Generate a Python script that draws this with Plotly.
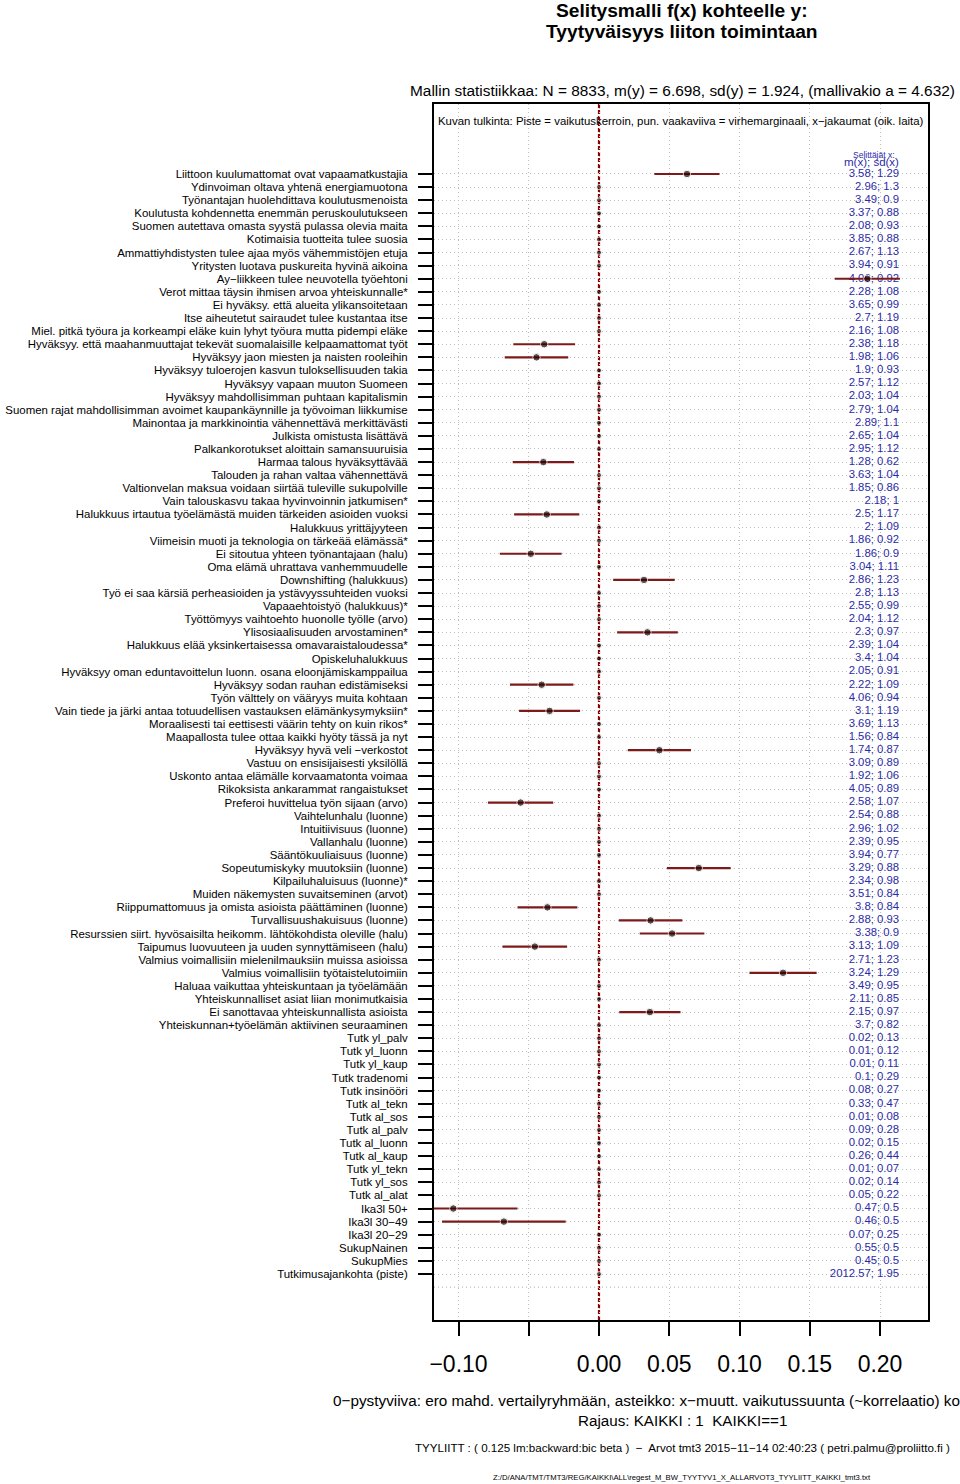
import plotly.graph_objects as go

labels = [
    "Liittoon kuulumattomat ovat vapaamatkustajia",
    "Ydinvoiman oltava yhtenä energiamuotona",
    "Työnantajan huolehdittava koulutusmenoista",
    "Koulutusta kohdennetta enemmän peruskoulutukseen",
    "Suomen autettava omasta syystä pulassa olevia maita",
    "Kotimaisia tuotteita tulee suosia",
    "Ammattiyhdistysten tulee ajaa myös vähemmistöjen etuja",
    "Yritysten luotava puskureita hyvinä aikoina",
    "Ay\u2212liikkeen tulee neuvotella työehtoni",
    "Verot mittaa täysin ihmisen arvoa yhteiskunnalle*",
    "Ei hyväksy. että alueita ylikansoitetaan",
    "Itse aiheutetut sairaudet tulee kustantaa itse",
    "Miel. pitkä työura ja korkeampi eläke kuin lyhyt työura mutta pidempi eläke",
    "Hyväksyy. että maahanmuuttajat tekevät suomalaisille kelpaamattomat työt",
    "Hyväksyy jaon miesten ja naisten rooleihin",
    "Hyväksyy tuloerojen kasvun tuloksellisuuden takia",
    "Hyväksyy vapaan muuton Suomeen",
    "Hyväksyy mahdollisimman puhtaan kapitalismin",
    "Suomen rajat mahdollisimman avoimet kaupankäynnille ja työvoiman liikkumise",
    "Mainontaa ja markkinointia vähennettävä merkittävästi",
    "Julkista omistusta lisättävä",
    "Palkankorotukset aloittain samansuuruisia",
    "Harmaa talous hyväksyttävää",
    "Talouden ja rahan valtaa vähennettävä",
    "Valtionvelan maksua voidaan siirtää tuleville sukupolville",
    "Vain talouskasvu takaa hyvinvoinnin jatkumisen*",
    "Halukkuus irtautua työelämästä muiden tärkeiden asioiden vuoksi",
    "Halukkuus yrittäjyyteen",
    "Viimeisin muoti ja teknologia on tärkeää elämässä*",
    "Ei sitoutua yhteen työnantajaan (halu)",
    "Oma elämä uhrattava vanhemmuudelle",
    "Downshifting (halukkuus)",
    "Työ ei saa kärsiä perheasioiden ja ystävyyssuhteiden vuoksi",
    "Vapaaehtoistyö (halukkuus)*",
    "Työttömyys vaihtoehto huonolle työlle (arvo)",
    "Ylisosiaalisuuden arvostaminen*",
    "Halukkuus elää yksinkertaisessa omavaraistaloudessa*",
    "Opiskeluhalukkuus",
    "Hyväksyy oman eduntavoittelun luonn. osana eloonjämiskamppailua",
    "Hyväksyy sodan rauhan edistämiseksi",
    "Työn välttely on vääryys muita kohtaan",
    "Vain tiede ja järki antaa totuudellisen vastauksen elämänkysymyksiin*",
    "Moraalisesti tai eettisesti väärin tehty on kuin rikos*",
    "Maapallosta tulee ottaa kaikki hyöty tässä ja nyt",
    "Hyväksyy hyvä veli \u2212verkostot",
    "Vastuu on ensisijaisesti yksilöllä",
    "Uskonto antaa elämälle korvaamatonta voimaa",
    "Rikoksista ankarammat rangaistukset",
    "Preferoi huvittelua työn sijaan (arvo)",
    "Vaihtelunhalu (luonne)",
    "Intuitiivisuus (luonne)",
    "Vallanhalu (luonne)",
    "Sääntökuuliaisuus (luonne)",
    "Sopeutumiskyky muutoksiin (luonne)",
    "Kilpailuhaluisuus (luonne)*",
    "Muiden näkemysten suvaitseminen (arvot)",
    "Riippumattomuus ja omista asioista päättäminen (luonne)",
    "Turvallisuushakuisuus (luonne)",
    "Resurssien siirt. hyvösaisilta heikomm. lähtökohdista oleville (halu)",
    "Taipumus luovuuteen ja uuden synnyttämiseen (halu)",
    "Valmius voimallisiin mielenilmauksiin muissa asioissa",
    "Valmius voimallisiin työtaistelutoimiin",
    "Haluaa vaikuttaa yhteiskuntaan ja työelämään",
    "Yhteiskunnalliset asiat liian monimutkaisia",
    "Ei sanottavaa yhteiskunnallista asioista",
    "Yhteiskunnan+työelämän aktiivinen seuraaminen",
    "Tutk yl_palv",
    "Tutk yl_luonn",
    "Tutk yl_kaup",
    "Tutk tradenomi",
    "Tutk insinööri",
    "Tutk al_tekn",
    "Tutk al_sos",
    "Tutk al_palv",
    "Tutk al_luonn",
    "Tutk al_kaup",
    "Tutk yl_tekn",
    "Tutk yl_sos",
    "Tutk al_alat",
    "Ika3l 50+",
    "Ika3l 30\u221249",
    "Ika3l 20\u221229",
    "SukupNainen",
    "SukupMies",
    "Tutkimusajankohta (piste)",
]

coef = [
    0.0626, 0, 0, 0, 0, 0, 0, 0, 0.191, 0,
    0, 0, 0, -0.0390, -0.0445, 0, 0, 0, 0, 0,
    0, 0, -0.0396, 0, 0, 0, -0.0372, 0, 0, -0.0486,
    0, 0.0320, 0, 0, 0, 0.0345, 0, 0, 0, -0.0408,
    0, -0.0352, 0, 0, 0.0430, 0, 0, 0, -0.0558, 0,
    0, 0, 0, 0.0710, 0, 0, -0.0367, 0.0367, 0.0520, -0.0457,
    0, 0.1310, 0, 0, 0.0362, 0, 0, 0, 0, 0,
    0, 0, 0, 0, 0, 0, 0, 0, 0, -0.1037,
    -0.0677, 0, 0, 0, 0,
]

err = [
    0.0232, 0, 0, 0, 0, 0, 0, 0, 0.0232, 0,
    0, 0, 0, 0.0220, 0.0226, 0, 0, 0, 0, 0,
    0, 0, 0.0218, 0, 0, 0, 0.0232, 0, 0, 0.0220,
    0, 0.0219, 0, 0, 0, 0.0216, 0, 0, 0, 0.0226,
    0, 0.0217, 0, 0, 0.0225, 0, 0, 0, 0.0232, 0,
    0, 0, 0, 0.0227, 0, 0, 0.0213, 0.0226, 0.0230, 0.0230,
    0, 0.0239, 0, 0, 0.0218, 0, 0, 0, 0, 0,
    0, 0, 0, 0, 0, 0, 0, 0, 0, 0.0457,
    0.0440, 0, 0, 0, 0,
]

mean_x = [
    3.58, 2.96, 3.49, 3.37, 2.08, 3.85, 2.67, 3.94, 4.06, 2.28,
    3.65, 2.7, 2.16, 2.38, 1.98, 1.9, 2.57, 2.03, 2.79, 2.89,
    2.65, 2.95, 1.28, 3.63, 1.85, 2.18, 2.5, 2, 1.86, 1.86,
    3.04, 2.86, 2.8, 2.55, 2.04, 2.3, 2.39, 3.4, 2.05, 2.22,
    4.06, 3.1, 3.69, 1.56, 1.74, 3.09, 1.92, 4.05, 2.58, 2.54,
    2.96, 2.39, 3.94, 3.29, 2.34, 3.51, 3.8, 2.88, 3.38, 3.13,
    2.71, 3.24, 3.49, 2.11, 2.15, 3.7, 0.02, 0.01, 0.01, 0.1,
    0.08, 0.33, 0.01, 0.09, 0.02, 0.26, 0.01, 0.02, 0.05, 0.47,
    0.46, 0.07, 0.55, 0.45, 2012.57,
]

sd_x = [
    1.29, 1.3, 0.9, 0.88, 0.93, 0.88, 1.13, 0.91, 0.92, 1.08,
    0.99, 1.19, 1.08, 1.18, 1.06, 0.93, 1.12, 1.04, 1.04, 1.1,
    1.04, 1.12, 0.62, 1.04, 0.86, 1, 1.17, 1.09, 0.92, 0.9,
    1.11, 1.23, 1.13, 0.99, 1.12, 0.97, 1.04, 1.04, 0.91, 1.09,
    0.94, 1.19, 1.13, 0.84, 0.87, 0.89, 1.06, 0.89, 1.07, 0.88,
    1.02, 0.95, 0.77, 0.88, 0.98, 0.84, 0.84, 0.93, 0.9, 1.09,
    1.23, 1.29, 0.95, 0.85, 0.97, 0.82, 0.13, 0.12, 0.11, 0.29,
    0.27, 0.47, 0.08, 0.28, 0.15, 0.44, 0.07, 0.14, 0.22, 0.5,
    0.5, 0.25, 0.5, 0.5, 1.95,
]

x_tickvals = [-0.10, -0.05, 0.00, 0.05, 0.10, 0.15, 0.20]
x_ticktext = ["\u22120.10", "", "0.00", "0.05", "0.10", "0.15", "0.20"]

title_lines = ["Selitysmalli f(x) kohteelle y:", "Tyytyväisyys liiton toimintaan"]
stats_text = "Mallin statistiikkaa: N = 8833, m(y) = 6.698, sd(y) = 1.924, (mallivakio a = 4.632)"
legend_text = "Kuvan tulkinta: Piste = vaikutuskerroin, pun. vaakaviiva = virhemarginaali, x\u2212jakaumat (oik. laita)"
bottom1 = "0\u2212pystyviiva: ero mahd. vertailyryhmään, asteikko: x\u2212muutt. vaikutussuunta (~korrelaatio) ko"
bottom2 = "Rajaus: KAIKKI : 1\u00a0 KAIKKI==1"
bottom3 = "TYYLIITT : ( 0.125 lm:backward:bic beta )\u00a0 \u2212\u00a0 Arvot tmt3 2015\u221211\u221214 02:40:23 ( petri.palmu@proliitto.fi )"
bottom4 = "Z:/D/ANA/TMT/TMT3/REG/KAIKKI\\ALL\\regest_M_BW_TYYTYV1_X_ALLARVOT3_TYYLIITT_KAIKKI_tmt3.txt"

FONT = "Liberation Sans, Arial, Helvetica, sans-serif"
W, H = 960, 1484
L, R, T, B = 434, 32, 104, 164
PW, PH = W - L - R, H - T - B

def px(xp):
    return (xp - L) / PW

def py(yp):
    return (H - B - yp) / PH

n = len(labels)
rows = list(range(n))
value_text = [f"{m:g}; {s:g}" for m, s in zip(mean_x, sd_x)]
sizes = [7.5 if e > 0 else 5 for e in err]
BLUE = "#2b2ba8"

fig = go.Figure()

fig.add_trace(go.Scatter(
    x=[0.2135] * n, y=rows, mode="text", text=value_text,
    textposition="middle left",
    textfont=dict(family=FONT, size=11.3, color=BLUE),
    hoverinfo="skip", showlegend=False,
))

fig.add_trace(go.Scatter(
    x=coef, y=rows, mode="markers",
    marker=dict(size=sizes, color="#1e0404"),
    error_x=dict(type="data", array=err, symmetric=True, color="#7d1a1a",
                 thickness=2.2, width=0),
    showlegend=False,
))

fig.add_shape(type="line", xref="x", yref="paper", x0=0, x1=0, y0=0, y1=1,
              line=dict(color="#8b0000", width=2.2, dash="4px,2px"), layer="below")
fig.add_shape(type="line", xref="paper", yref="y", x0=0, x1=1, y0=n, y1=n,
              line=dict(color="#bdbdbd", width=1.2, dash="1px,3px"), layer="below")

fig.update_xaxes(
    range=[-0.11744, 0.23416], tickvals=x_tickvals, ticktext=x_ticktext,
    ticks="outside", ticklen=14, tickwidth=2, tickcolor="black",
    showline=True, linewidth=2, linecolor="black", mirror=True,
    showgrid=True, gridcolor="#bdbdbd", gridwidth=1.2, griddash="1px,3px",
    zeroline=False, tickfont=dict(family=FONT, size=23, color="black"),
    ticklabelstandoff=8,
)
fig.update_yaxes(
    range=[87.513, -5.345], tickvals=rows, ticktext=labels,
    ticks="outside", ticklen=14, tickwidth=2, tickcolor="black",
    showline=True, linewidth=2, linecolor="black", mirror=True,
    showgrid=True, gridcolor="#bdbdbd", gridwidth=1.2, griddash="1px,3px",
    zeroline=False, tickfont=dict(family=FONT, size=11.45, color="black"),
    ticklabelstandoff=8,
)

ann = []
def add(text, xp, yp, size, xanchor="center", bold=False, color="black"):
    ann.append(dict(text=(f"<b>{text}</b>" if bold else text), xref="paper", yref="paper",
                    x=px(xp), y=py(yp), xanchor=xanchor, yanchor="middle",
                    showarrow=False, font=dict(family=FONT, size=size, color=color)))

add(title_lines[0], 682, 10, 19.2, bold=True)
add(title_lines[1], 682, 31, 19.2, bold=True)
add(stats_text, 682, 91, 15.4)
add(legend_text, 680, 121, 11.4)
add("Selittäjät x:", 874, 155, 8.5, color=BLUE)
add("m(x); sd(x)", 871, 162, 11.5, color=BLUE)
add(bottom1, 331, 1400, 15.3, xanchor="left")
add(bottom2, 682, 1420, 15.2)
add(bottom3, 682, 1448, 11.6)
add(bottom4, 682, 1477, 7.7)

fig.update_layout(
    width=W, height=H, margin=dict(l=L, r=R, t=T, b=B, autoexpand=False),
    plot_bgcolor="white", paper_bgcolor="white",
    font=dict(family=FONT, color="black"),
    annotations=ann, showlegend=False,
)

fig.write_html("out.html", config={"displayModeBar": False},
               post_script="document.body.style.margin='0';")
